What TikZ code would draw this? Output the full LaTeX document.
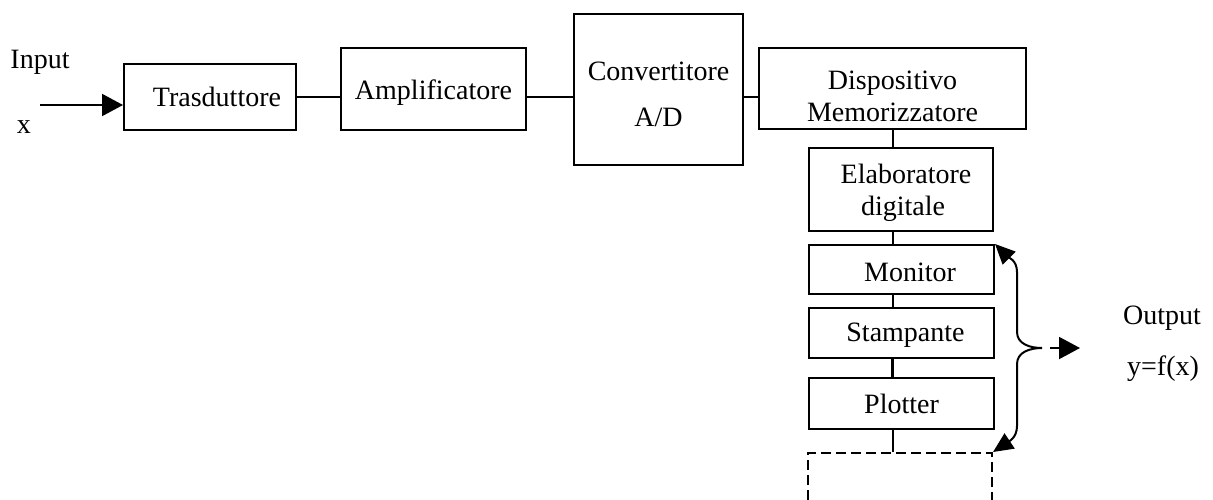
\documentclass[tikz,border=0pt]{standalone}
\usepackage{fontspec}
\setmainfont{Liberation Serif}
\usetikzlibrary{arrows.meta}
\newcommand{\lowerby}[2]{\raisebox{-#1}[\height][\depth]{#2}}
\begin{document}
\begin{tikzpicture}[x=0.5pt,y=-0.5pt,
 box/.style={draw, line width=1pt, inner sep=0pt, align=center, font=\fontsize{14}{16}\selectfont},
 lbl/.style={inner sep=0pt, anchor=base, font=\fontsize{14}{16}\selectfont},
 wire/.style={line width=1pt},
 tip/.style={-{Triangle[length=10.5pt,width=11pt]}},
 bracetips/.style={{Triangle[length=10pt,width=9pt]}-{Triangle[length=10pt,width=9pt]}}]
\useasboundingbox (0,0) rectangle (1213,499);
\clip (0,0) rectangle (1213,499);
% boxes
\node[box, minimum width=86pt, minimum height=33pt] (tras) at (210,97) {\hspace*{7pt}Trasduttore};
\node[box, minimum width=92.5pt, minimum height=41pt] (amp) at (433.5,89) {\lowerby{1.7pt}{Amplificatore}};
\node[box, minimum width=84.5pt, minimum height=75.5pt] (conv) at (658.5,89.5) {\rule{0pt}{14.6pt}Convertitore\\[7pt]A/D};
\node[box, minimum width=133.5pt, minimum height=40.5pt] (disp) at (892.5,88.5) {\rule{0pt}{17.6pt}Dispositivo\\Memorizzatore};
\node[box, minimum width=92pt, minimum height=41.5pt] (elab) at (901,189.5) {\rule{0pt}{12.6pt}\hspace*{5pt}Elaboratore\\\hspace*{2pt}digitale};
\node[box, minimum width=92.5pt, minimum height=24.5pt] (mon) at (901.5,269.5) {\hspace*{8.5pt}\lowerby{1.6pt}{Monitor}};
\node[box, minimum width=92.5pt, minimum height=25pt] (stamp) at (901.5,333) {\hspace*{4pt}\lowerby{1.2pt}{Stampante}};
\node[box, minimum width=92.5pt, minimum height=25.5pt] (plot) at (901.5,403.5) {Plotter};
\node[box, dash pattern=on 5pt off 2.5pt, minimum width=92pt, minimum height=60pt] (extra) at (900,513) {};
% labels
\node[lbl] (inlbl) at (40,68) {Input};
\node[lbl] (xlbl) at (24,133) {x};
\node[lbl] (outlbl) at (1162,324) {Output};
\node[lbl] (ylbl) at (1163,375) {y=f(x)};
% connectors
\coordinate (in) at (40,105);
\draw[wire,tip] (in) -- (in -| tras.west);
\draw[wire] (tras.east) -- (tras.east -| amp.west);
\draw[wire] (tras.east -| amp.east) -- (tras.east -| conv.west);
\draw[wire] (tras.east -| conv.east) -- (tras.east -| disp.west);
\draw[wire] (disp.south) -- (disp.south |- elab.north);
\draw[wire] (disp.south |- elab.south) -- (disp.south |- mon.north);
\draw[wire] (disp.south |- mon.south) -- (disp.south |- stamp.north);
\draw[line width=1.6pt] (disp.south |- stamp.south) -- (disp.south |- plot.north);
\draw[wire] (disp.south |- plot.south) -- (disp.south |- extra.north);
% brace
\coordinate (brtip) at (1042,348);
\draw[wire, bracetips] (mon.north east) .. controls (1008,257) and (1017,260) .. (1017,272) -- (1017,332) .. controls (1017,344) and (1030,348) .. (brtip) .. controls (1030,348) and (1017,352) .. (1017,364) -- (1017,426) .. controls (1017,438) and (1008,442) .. (extra.north east);
% output arrow
\coordinate (outs) at (1050,348);
\coordinate (oute) at (1080,348);
\draw[wire,tip] (outs) -- (oute);
\end{tikzpicture}
\end{document}
